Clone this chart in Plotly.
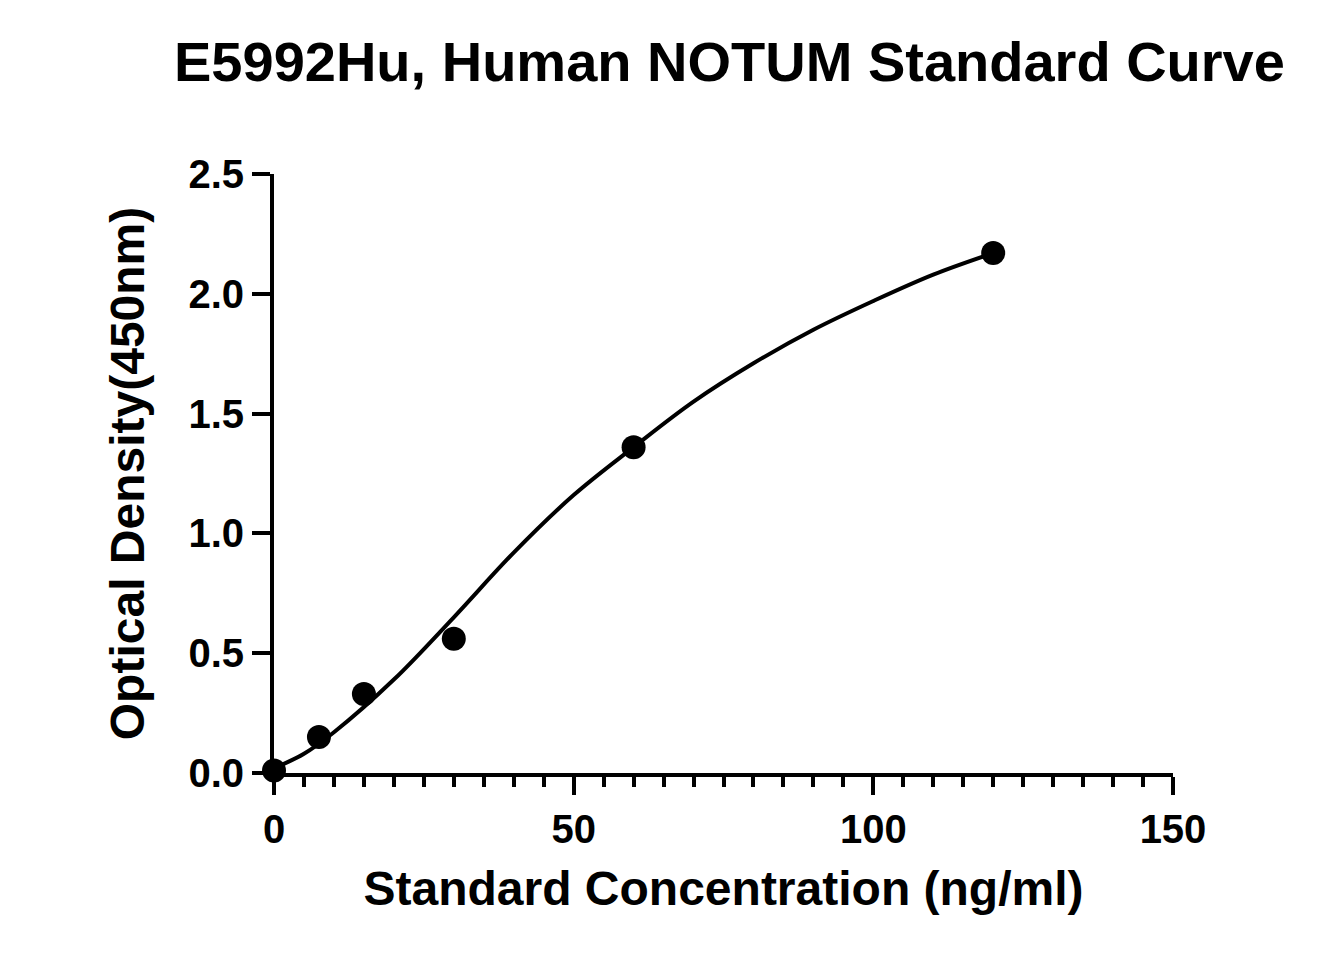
import plotly.graph_objects as go

# standard points
conc = [0, 7.5, 15, 30, 60, 120]
od = [0.01, 0.15, 0.33, 0.56, 1.36, 2.17]

# fitted curve
curve_x = [0, 5, 10, 20, 30, 40, 50, 60, 70, 80, 90, 100, 110, 120]
curve_y = [0.02, 0.08, 0.17, 0.39, 0.65, 0.92, 1.16, 1.36, 1.55, 1.71, 1.85, 1.97, 2.08, 2.17]

font = "Liberation Sans, Arial, sans-serif"

fig = go.Figure()
fig.add_trace(go.Scatter(x=curve_x, y=curve_y, mode="lines",
                         line=dict(color="black", width=4, shape="spline"),
                         hoverinfo="skip", cliponaxis=False))
fig.add_trace(go.Scatter(x=conc, y=od, mode="markers", cliponaxis=False,
                         marker=dict(color="black", size=24)))

fig.update_layout(
    width=1341, height=975,
    plot_bgcolor="white", paper_bgcolor="white",
    showlegend=False,
    margin=dict(l=266, r=176, t=166, b=210),
    title=dict(text="<b>E5992Hu, Human NOTUM Standard Curve</b>",
               x=0.538, xanchor="center", y=0.965, yanchor="top",
               font=dict(family=font, size=56, color="black")),
)
fig.update_xaxes(
    range=[0, 150], tickvals=[0, 50, 100, 150],
    showgrid=False, zeroline=False,
    showline=True, linecolor="black", linewidth=4,
    ticks="outside", ticklen=18, tickwidth=4, tickcolor="black",
    minor=dict(dtick=5, ticks="outside", ticklen=10, tickwidth=4, tickcolor="black"),
    tickfont=dict(family=font, size=40, color="black", weight="bold"),
    title=dict(text="<b>Standard Concentration (ng/ml)</b>", standoff=22,
               font=dict(family=font, size=48, color="black")),
)
fig.update_yaxes(
    range=[0, 2.5], dtick=0.5, tickformat=".1f",
    showgrid=False, zeroline=False,
    showline=True, linecolor="black", linewidth=4,
    ticks="outside", ticklen=18, tickwidth=4, tickcolor="black",
    tickfont=dict(family=font, size=40, color="black", weight="bold"),
    title=dict(text="<b>Optical Density(450nm)</b>", standoff=30,
               font=dict(family=font, size=48, color="black")),
)

fig.write_html("out.html")
